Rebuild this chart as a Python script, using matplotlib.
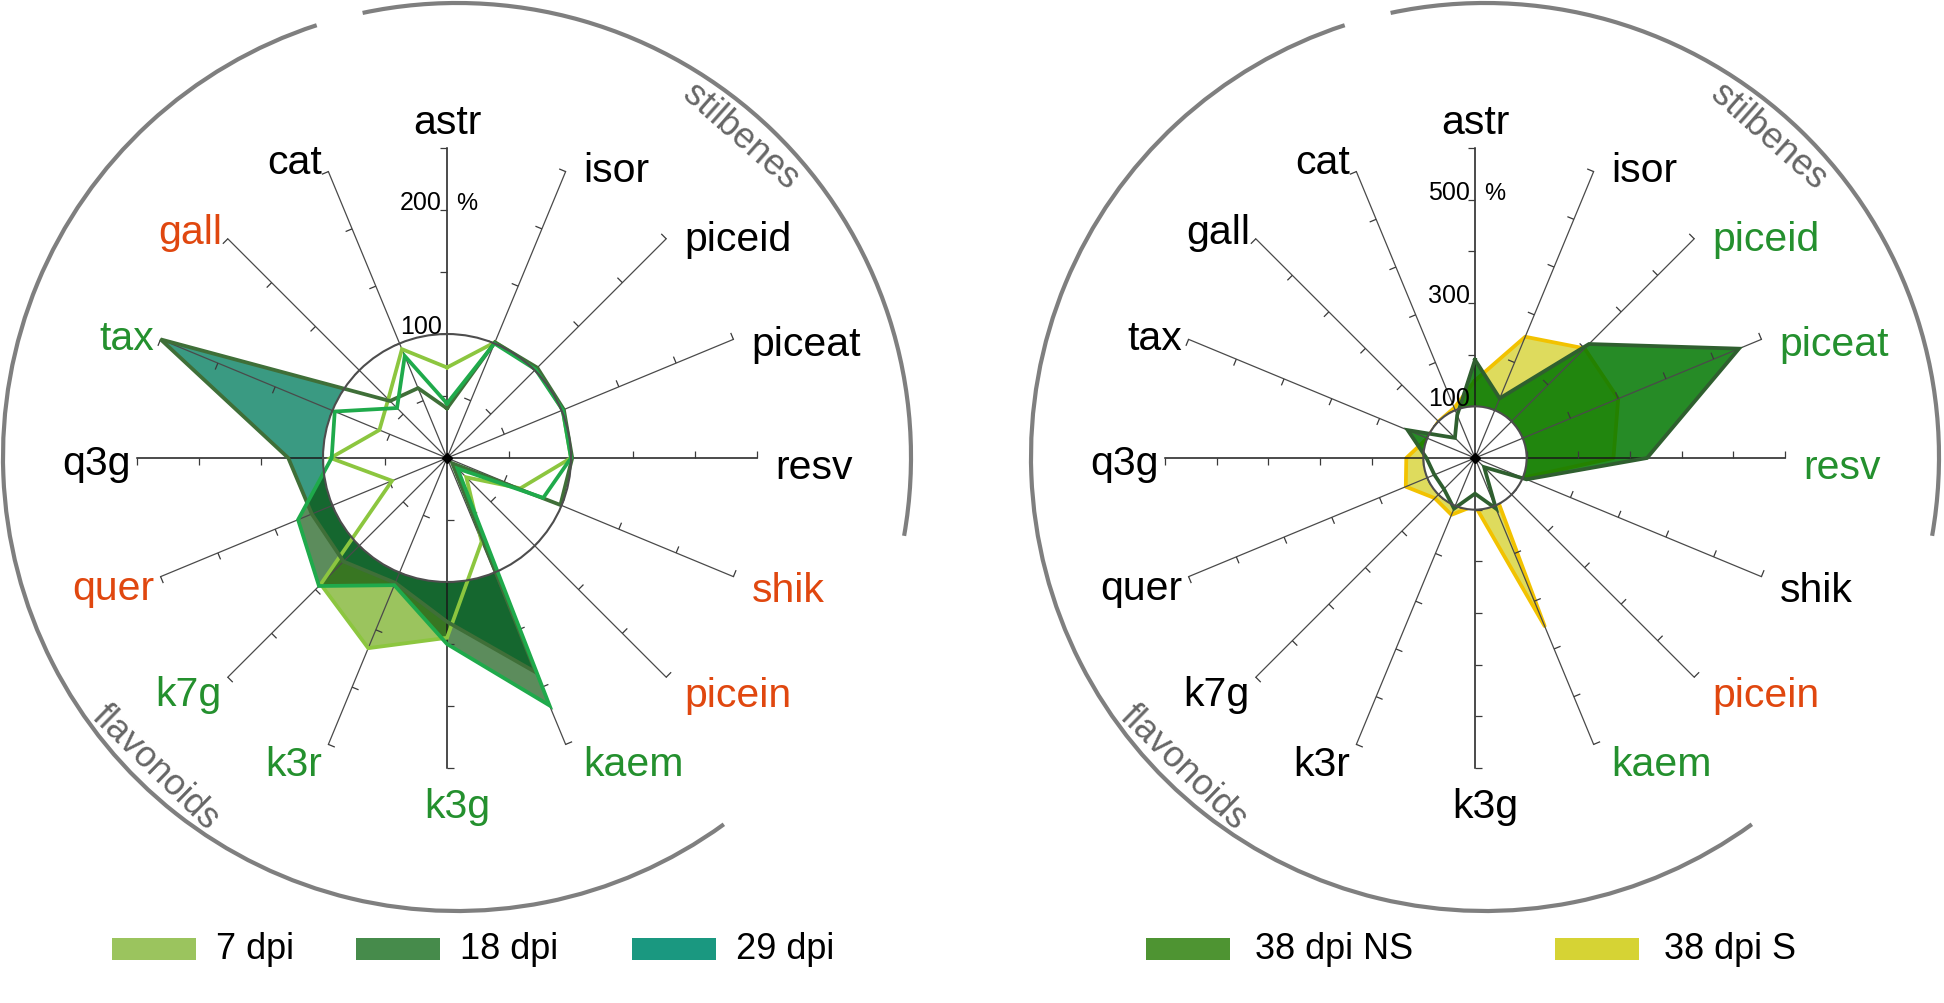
import numpy as np
import matplotlib.pyplot as plt
from matplotlib.patches import Circle, Arc, Rectangle
from matplotlib.collections import LineCollection

plt.rcParams['font.family'] = ['Liberation Sans', 'DejaVu Sans']

# spokes, clockwise from the top
compounds = ['astr', 'isor', 'piceid', 'piceat', 'resv', 'shik', 'picein', 'kaem',
             'k3g', 'k3r', 'k7g', 'quer', 'q3g', 'tax', 'gall', 'cat']

# left panel, % of control
dpi7 = [73, 101, 102, 101, 100, 64, 22, 73, 145, 166, 144, 48, 94, 59, 67, 95]
dpi18 = [44, 100, 101, 101, 100, 84, 12, 216, 150, 111, 146, 130, 93, 98, 57, 89]
dpi29 = [40, 101, 103, 102, 101, 99, 6, 187, 132, 109, 118, 118, 128, 250, 65, 61]

# right panel, % of control
dpi38_ns = [190, 125, 312, 553, 333, 108, 25, 106, 69, 106, 85, 85, 94, 141, 55, 90]
dpi38_s = [150, 254, 300, 300, 268, 100, 30, 352, 92, 119, 110, 145, 133, 100, 100, 105]

left_max, left_step, left_marks = 250, 50, [100, 200]
right_max, right_step, right_marks = 600, 100, [100, 300, 500]

RED = '#E0470F'
GRN = '#24902E'
left_colors = ['k', 'k', 'k', 'k', 'k', RED, RED, GRN, GRN, GRN, GRN, RED, 'k', GRN, RED, 'k']
right_colors = ['k', 'k', GRN, GRN, GRN, 'k', RED, GRN, 'k', 'k', 'k', 'k', 'k', 'k', 'k', 'k']

left_legend = ['7 dpi', '18 dpi', '29 dpi']
left_legend_colors = ['#9BC45E', '#468B4B', '#1A9880']
right_legend = ['38 dpi NS', '38 dpi S']
right_legend_colors = ['#4E9432', '#D6D334']

theta = np.deg2rad(90 - 22.5 * np.arange(len(compounds)))
R = 310  # spoke length in pixels

fig = plt.figure(figsize=(19.44, 10.04), dpi=100)
ax = fig.add_axes([0, 0, 1, 1])
ax.set_xlim(0, 1944)
ax.set_ylim(0, 1004)
ax.axis('off')


def poly(cx, cy, k, vals):
    v = np.asarray(vals, float) * k
    x = cx + v * np.cos(theta)
    y = cy + v * np.sin(theta)
    return np.append(x, x[0]), np.append(y, y[0])


def frame(cx, cy, vmax, step, marks, colors):
    k = R / vmax
    # white hole at 100 %
    ax.add_patch(Circle((cx, cy), 100 * k, fc='white', ec='none', zorder=2))
    segs = []
    for i, t in enumerate(theta):
        main = i % 4 == 0
        ax.plot([cx, cx + R * np.cos(t)], [cy, cy + R * np.sin(t)],
                color='#1a1a1a' if main else '#4a4a4a', lw=1.1 if main else 0.9, zorder=3)
        for v in np.arange(step, vmax + 1, step):
            px, py = cx + v * k * np.cos(t), cy + v * k * np.sin(t)
            segs.append([(px, py), (px - 7 * np.sin(t), py + 7 * np.cos(t))])
        # compound labels
        ex, ey = cx + R * np.cos(t), cy + R * np.sin(t)
        c, s = np.cos(t), np.sin(t)
        if abs(c) < 0.1:
            tx, ty, ha = (ex, ey + 26, 'center') if s > 0 else (ex + 10, ey - 38, 'center')
        elif c > 0:
            tx, ty, ha = ex + 18, ey - 9 + 12 * s, 'left'
        else:
            tx, ty, ha = ex - 6, ey - 5 + 16 * s, 'right'
        ax.text(tx, ty, compounds[i], ha=ha, va='center', fontsize=29.5,
                color=colors[i], zorder=8)
    ax.add_collection(LineCollection(segs, colors='#3a3a3a', lw=0.9, zorder=3))
    ax.add_patch(Circle((cx, cy), 100 * k, fc='none', ec='#4d4d4d', lw=1.5, zorder=6))
    ax.plot(cx, cy, marker='D', ms=5, color='k', zorder=7)
    for m in marks:
        ax.text(cx - 5, cy + m * k + 1, str(m), ha='right', va='baseline',
                fontsize=18, zorder=8)
    ax.text(cx + 9, cy + marks[-1] * k + 1, '%', ha='left', va='baseline',
            fontsize=17, zorder=8)

    # group arcs
    acx, acy, ar = cx + 10, cy + 1, 454
    ax.add_patch(Arc((acx, acy), 2 * ar, 2 * ar, theta1=-10, theta2=102,
                     color='#7f7f7f', lw=3.0, zorder=1))
    ax.add_patch(Arc((acx, acy), 2 * ar, 2 * ar, theta1=108, theta2=306,
                     color='#7f7f7f', lw=3.0, zorder=1))
    a1, a2 = np.deg2rad(48.6), np.deg2rad(225.8)
    ax.text(acx + 428 * np.cos(a1), acy + 428 * np.sin(a1), 'stilbenes',
            rotation=-41.4, ha='center', va='center', fontsize=26, color='#666666')
    ax.text(acx + 432 * np.cos(a2), acy + 432 * np.sin(a2), 'flavonoids',
            rotation=-44.2, ha='center', va='center', fontsize=26, color='#666666')


def legend(xs, labels, colors, gap):
    for x, lab, col in zip(xs, labels, colors):
        ax.add_patch(Rectangle((x, 43), 84, 22, fc=col, ec='none'))
        ax.text(x + 84 + gap, 54, lab, ha='left', va='center', fontsize=26)


# ---- left panel ----
lcx, lcy = 447, 545
kl = R / left_max
x, y = poly(lcx, lcy, kl, dpi7)
ax.fill(x, y, color='#9BC45E', lw=0, zorder=1)
x, y = poly(lcx, lcy, kl, dpi29)
ax.fill(x, y, color='#3A9A82', lw=0, zorder=1)
x, y = poly(lcx, lcy, kl, dpi18)
ax.fill(x, y, color='#004B00', alpha=0.64, lw=0, zorder=1)
for vals, col in [(dpi7, '#8CC63F'), (dpi29, '#3F6F38'), (dpi18, '#1FAA4B')]:
    x, y = poly(lcx, lcy, kl, vals)
    ax.plot(x, y, color=col, lw=2.7, zorder=4, solid_joinstyle='miter')
frame(lcx, lcy, left_max, left_step, left_marks, left_colors)
legend([112, 356, 632], left_legend, left_legend_colors, 20)

# ---- right panel ----
rcx, rcy = 1475, 545
kr = R / right_max
x, y = poly(rcx, rcy, kr, dpi38_s)
ax.fill(x, y, color='#D6D334', alpha=0.8, lw=0, zorder=1)
ax.plot(x, y, color='#F2C200', lw=2.7, zorder=1)
x, y = poly(rcx, rcy, kr, dpi38_ns)
ax.fill(x, y, color='#007700', alpha=0.85, lw=0, zorder=1)
ax.plot(x, y, color='#2F5F2F', lw=2.7, zorder=4, solid_joinstyle='miter')
frame(rcx, rcy, right_max, right_step, right_marks, right_colors)
legend([1146, 1555], right_legend, right_legend_colors, 25)

fig.savefig('out.png', dpi=100)
